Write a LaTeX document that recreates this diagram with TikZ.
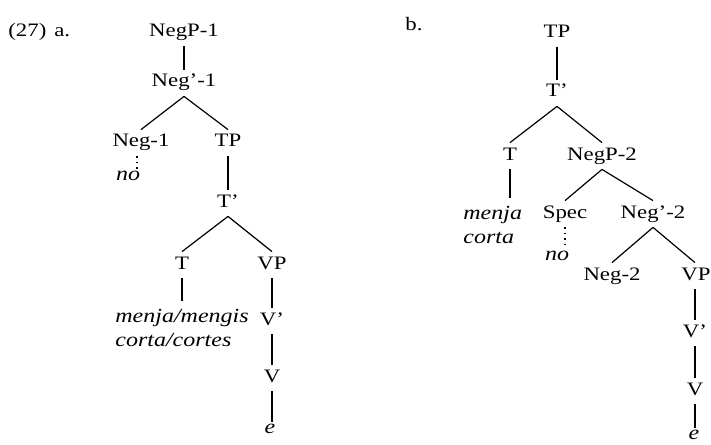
\documentclass[tikz,border=0pt]{standalone}
\usepackage{fontspec}
\setmainfont[FakeStretch=1.2]{Liberation Serif}

\begin{document}
\begin{tikzpicture}[
            x=0.5pt, y=-0.5pt,
            font=\fontsize{9.5}{14.5}\selectfont,
            Cat/.style={anchor=base, inner xsep=1pt, inner ysep=2.5pt, text height=6pt, text depth=2pt},
            Word/.style={Cat, font=\itshape, text height=4pt, inner ysep=1.5pt},
            Leaf/.style={anchor=north west, inner sep=0pt, align=left, font=\itshape},
            Edge/.style={line width=0.6pt},
            LeafEdge/.style={Edge, shorten >=4pt},
            Dots/.style={line width=0.7pt, dotted},
            ]
            \useasboundingbox (0,0) rectangle (711,444);

            % (27a)
            \node[anchor=base west, inner sep=0pt] (ex27a) at (8,37) {(27)\hspace{4pt}a.};
            \node[Cat] (NegP1) at (184,37) {NegP-1};
            \node[Cat] (Negbar1) at (184,87) {Neg'-1};
            \node[Cat] (Neg1) at (141,147) {Neg-1};
            \node[Cat] (TP1) at (228,147) {TP};
            \node[Word] (no1) at (128,180) {no};
            \node[Cat] (Tbar1) at (228,207) {T'};
            \node[Cat] (T1) at (182,269) {T};
            \node[Cat] (VP1) at (272,269) {VP};
            \node[Leaf] (verb1) at (115,309) {menja/mengis\\corta/cortes};
            \node[Cat] (Vbar1) at (272,325) {V'};
            \node[Cat] (V1) at (272,382) {V};
            \node[Word] (e1) at (270,433) {e};

            \draw[Edge] (NegP1) -- (Negbar1);
            \draw[Edge] (Negbar1.south) -- (Neg1.north);
            \draw[Edge] (Negbar1.south) -- (TP1.north);
            \draw[Dots] ([xshift=-2pt]Neg1.south) -- ([xshift=-2pt]Neg1.south |- no1.north);
            \draw[Edge] (TP1) -- (Tbar1);
            \draw[Edge] (Tbar1.south) -- (T1.north);
            \draw[Edge] (Tbar1.south) -- (VP1.north);
            \draw[LeafEdge] (T1.south) -- (T1.south |- verb1.north);
            \draw[Edge] (VP1) -- (Vbar1);
            \draw[Edge] (Vbar1) -- (V1);
            \draw[Edge] (V1.south) -- (V1.south |- e1.north);

            % (27b)
            \node[anchor=base west, inner sep=0pt] (ex27b) at (405,31) {b.};
            \node[Cat] (TP2) at (557,38) {TP};
            \node[Cat] (Tbar2) at (557,97) {T'};
            \node[Cat] (T2) at (510,160) {T};
            \node[Cat] (NegP2) at (602,160) {NegP-2};
            \node[Leaf] (verb2) at (463,206) {menja\\corta};
            \node[Cat] (Spec2) at (565,218) {Spec};
            \node[Cat] (Negbar2) at (653,218) {Neg'-2};
            \node[Word] (no2) at (557,260) {no};
            \node[Cat] (Neg2) at (612,280) {Neg-2};
            \node[Cat] (VP2) at (696,280) {VP};
            \node[Cat] (Vbar2) at (695,337) {V'};
            \node[Cat] (V2) at (695,395) {V};
            \node[Word] (e2) at (694,439) {e};

            \draw[Edge] (TP2) -- (Tbar2);
            \draw[Edge] (Tbar2.south) -- (T2.north);
            \draw[Edge] (Tbar2.south) -- (NegP2.north);
            \draw[LeafEdge] (T2.south) -- (T2.south |- verb2.north);
            \draw[Edge] (NegP2.south) -- (Spec2.north);
            \draw[Edge] (NegP2.south) -- (Negbar2.north);
            \draw[Dots] (Spec2.south) -- (Spec2.south |- no2.north);
            \draw[Edge] (Negbar2.south) -- (Neg2.north);
            \draw[Edge] (Negbar2.south) -- (Vbar2 |- VP2.north);
            \draw[Edge] (Vbar2 |- VP2.south) -- (Vbar2.north);
            \draw[Edge] (Vbar2) -- (V2);
            \draw[Edge] (V2.south) -- (V2.south |- e2.north);
\end{tikzpicture}
\end{document}
